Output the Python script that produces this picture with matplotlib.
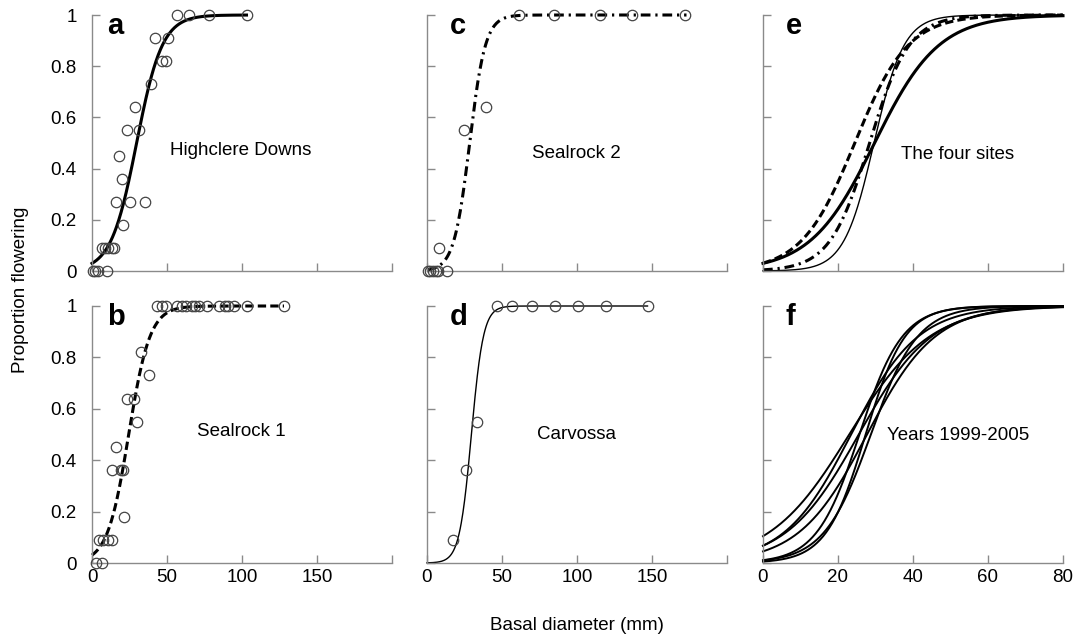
import numpy as np
import matplotlib.pyplot as plt

plt.rcParams['font.family'] = ['Liberation Sans', 'DejaVu Sans']
plt.rcParams['lines.scale_dashes'] = False

# observed proportions flowering (x = basal diameter, mm)
hd_x = [0.4, 2, 4.2, 9.8, 6.4, 8.7, 10.9, 13.1, 14.7, 20.9, 16, 25.3, 35.3, 19.8, 18,
        23.1, 31.3, 28.7, 39.1, 46.4, 49.3, 42, 50.9, 56.4, 64.7, 78.2, 103.1]
hd_y = [0, 0, 0, 0, 0.09, 0.09, 0.09, 0.09, 0.09, 0.18, 0.27, 0.27, 0.27, 0.36, 0.45,
        0.55, 0.55, 0.64, 0.73, 0.82, 0.82, 0.91, 0.91, 1, 1, 1, 1]

s1_x = [2.7, 6.4, 4.9, 7.6, 10.9, 13.1, 21.3, 13.1, 19.1, 20.9, 15.8, 30.2, 23.1, 28, 38, 32.7,
        43.6, 46.4, 49.3, 56.4, 59.8, 62.7, 66.4, 68.7, 71.5, 76.4, 84.9, 88.7, 90.9, 94.7, 103.1, 128]
s1_y = [0, 0, 0.09, 0.09, 0.09, 0.09, 0.18, 0.36, 0.36, 0.36, 0.45, 0.55, 0.64, 0.64, 0.73, 0.82,
        1, 1, 1, 1, 1, 1, 1, 1, 1, 1, 1, 1, 1, 1, 1, 1]

s2_x = [0.7, 2.2, 4, 5.8, 7.3, 13.3, 8, 24.4, 39.4, 61, 84.9, 115.3, 136.5, 172.3]
s2_y = [0, 0, 0, 0, 0, 0, 0.09, 0.55, 0.64, 1, 1, 1, 1, 1]

cv_x = [17.3, 25.7, 33.2, 46.5, 56.7, 69.7, 85.2, 100.9, 119.1, 147.3]
cv_y = [0.09, 0.36, 0.55, 1, 1, 1, 1, 1, 1, 1]

# fitted logistic curves: logit(p) = intercept + slope * x
site_names = ['Highclere Downs', 'Sealrock 1', 'Sealrock 2', 'Carvossa']
site_intercept = [-3.48, -3.45, -5.4, -7.4]
site_slope = [0.117, 0.141, 0.19, 0.25]
site_xmax = [103, 128, 173, 147]

year_intercept = [-2.15, -2.63, -2.63, -3.05, -4.5, -5.2, -4.6]
year_slope = [0.0935, 0.112, 0.103, 0.11, 0.175, 0.19, 0.16]

styles = [dict(color='black', lw=2.2, ls='-'),
          dict(color='black', lw=2.2, ls=(0, (6, 3))),
          dict(color='black', lw=2.2, ls=(0, (7, 3.5, 1.6, 3.5))),
          dict(color='black', lw=1.0, ls='-')]


def logistic(x, a, b):
    return 1 / (1 + np.exp(-(a + b * x)))


fig = plt.figure(figsize=(10.77, 6.4), dpi=100)
W, H = 1077, 640
cols = [92, 427, 763]
rows = [(15, 271), (306, 563)]
axes = {}
for letter, (c, r) in zip('abcdef', [(0, 0), (0, 1), (1, 0), (1, 1), (2, 0), (2, 1)]):
    top, bot = rows[r]
    ax = fig.add_axes([cols[c] / W, 1 - bot / H, 300 / W, (bot - top) / H])
    axes[letter] = ax
    for s in ['top', 'right']:
        ax.spines[s].set_visible(False)
    for s in ['left', 'bottom']:
        ax.spines[s].set_color('#8a8a8a')
        ax.spines[s].set_linewidth(1.0)
    ax.tick_params(direction='in', length=6, width=1.0, color='#8a8a8a', labelsize=13.5)
    ax.tick_params(axis='y', pad=11)
    ax.tick_params(axis='x', pad=4)
    ax.set_ylim(0, 1)
    ax.set_yticks([0, 0.2, 0.4, 0.6, 0.8, 1])
    ax.set_yticklabels(['0', '0.2', '0.4', '0.6', '0.8', '1'])
    if c < 2:
        ax.set_xlim(0, 200)
        ax.set_xticks([0, 50, 100, 150, 200])
        ax.set_xticklabels(['0', '50', '100', '150', ''])
    else:
        ax.set_xlim(0, 80)
        ax.set_xticks([0, 20, 40, 60, 80])
    if c > 0:
        ax.tick_params(axis='y', labelleft=False)
    if r == 0:
        ax.tick_params(axis='x', labelbottom=False)
    lx = 0.052 if c == 0 else 0.075
    ax.text(lx, 0.925, letter, transform=ax.transAxes, fontsize=21, fontweight='bold',
            va='baseline', ha='left')

obs = [(hd_x, hd_y), (s1_x, s1_y), (s2_x, s2_y), (cv_x, cv_y)]
text_pos = [(0.497, 0.47), (0.497, 0.51), (0.498, 0.46), (0.5, 0.5)]
for i, letter in enumerate('abcd'):
    ax = axes[letter]
    xx = np.linspace(0, site_xmax[i], 400)
    ax.plot(xx, logistic(xx, site_intercept[i], site_slope[i]), zorder=2, clip_on=False,
            **styles[i])
    ax.plot(obs[i][0], obs[i][1], 'o', ms=7.5, mfc='none', mec='#444444', mew=0.9,
            clip_on=False, zorder=3)
    ax.text(text_pos[i][0], text_pos[i][1], site_names[i], transform=ax.transAxes,
            fontsize=13.5, ha='center', va='center')

xx = np.linspace(0, 80, 400)
for i in range(4):
    axes['e'].plot(xx, logistic(xx, site_intercept[i], site_slope[i]), clip_on=False,
                   **styles[i])
axes['e'].text(0.648, 0.457, 'The four sites', transform=axes['e'].transAxes,
               fontsize=13.5, ha='center', va='center')

for a, b in zip(year_intercept, year_slope):
    axes['f'].plot(xx, logistic(xx, a, b), color='black', lw=1.4, clip_on=False)
axes['f'].text(0.65, 0.497, 'Years 1999-2005', transform=axes['f'].transAxes,
               fontsize=13.5, ha='center', va='center')

fig.text(0.0186, 0.547, 'Proportion flowering', rotation=90, fontsize=13.5,
         ha='center', va='center')
fig.text(0.536, 0.022, 'Basal diameter (mm)', fontsize=13.5, ha='center', va='center')

fig.savefig('out.png', dpi=100)
plt.close('all')
